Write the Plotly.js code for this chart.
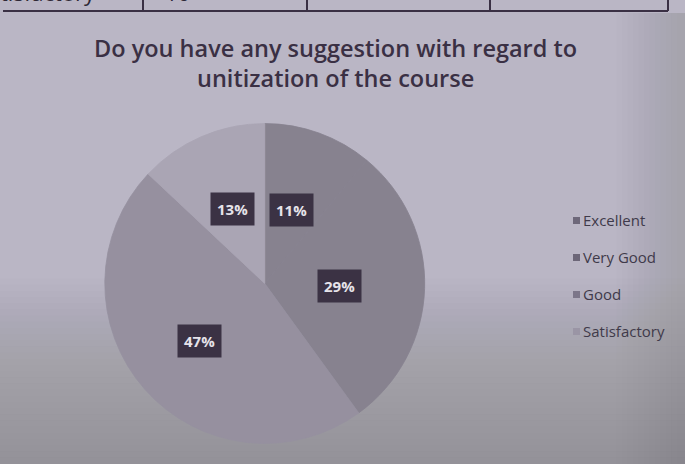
<!DOCTYPE html>
<html>
<head>
<meta charset="utf-8">
<script src="https://cdn.plot.ly/plotly-3.0.1.min.js"></script>
<style>html,body{margin:0;padding:0;background:#b7b3c1;}#chart{width:685px;height:464px;}</style>
</head>
<body>
<div id="chart"></div>
<script>
// ---- data ----
const categories = ["Excellent", "Very Good", "Good", "Satisfactory"];
const values = [11, 29, 47, 13];
const labelsText = ["11%", "29%", "47%", "13%"];
const titleLines = ["Do you have any suggestion with regard to", "unitization of the course"];
const tableText = ["tisfactory", "10"];

// ---- styles ----
const sliceColors = ["#87828f", "#87828f", "#96909f", "#aaa5b4"];
const legendColors = ["#6e687a", "#6c6678", "#7c7689", "#9a95a5"];
const W = 685, H = 464;
const dom = {x: [0.153, 0.620], y: [0.043, 0.735]};

const cx = (dom.x[0] + dom.x[1]) / 2, cy = (dom.y[0] + dom.y[1]) / 2;
const rPx = Math.min((dom.x[1]-dom.x[0])*W, (dom.y[1]-dom.y[0])*H) / 2;

const total = values.reduce((a,b)=>a+b,0);
const annotations = [];
let cum = 0;
const labelRadius = [0.49, 0.47, 0.54, 0.51];
values.forEach((v,i)=>{
  const mid = (cum + v/2) / total * 2 * Math.PI; // clockwise from top
  cum += v;
  const rr = labelRadius[i] * rPx;
  annotations.push({
    xref:'paper', yref:'paper',
    x: cx + rr*Math.sin(mid)/W, y: cy + rr*Math.cos(mid)/H,
    text: '<b>' + labelsText[i] + '</b>', showarrow:false,
    font:{family:'Open Sans, DejaVu Sans', size:15, color:'#e6e3ea'},
    bgcolor:'#3b3244', borderpad:6, xanchor:'center', yanchor:'middle'
  });
});

// legend (manual, to match spacing)
const shapes = [];
const legX = 573/W, legY0 = 1 - 220/H, legStep = 37/H;
categories.forEach((c,i)=>{
  const y = legY0 - i*legStep;
  annotations.push({xref:'paper', yref:'paper', x: legX + 8/W, y: y, text: c, showarrow:false,
    xanchor:'left', yanchor:'middle', font:{family:'Open Sans, Noto Sans', size:15, color:'#3f3a4a'}});
  shapes.push({type:'rect', xref:'paper', yref:'paper', x0: legX, x1: legX + 7/W, y0: y - 4/H, y1: y + 3/H,
    fillcolor: legendColors[i], line:{width:0}});
});

// title (two lines)
titleLines.forEach((t,i)=>{
  annotations.push({xref:'paper', yref:'paper', x: 335/W, y: 1 - (48 + i*30)/H, yanchor:'middle', xanchor:'center',
    text: t, showarrow:false,
    font:{family:'Open Sans, Noto Sans', size:23.5, weight:600, color:'#3a3044'}});
});

// table fragment at top
annotations.push({xref:'paper', yref:'paper', x: -2/W, y: 1 - 9/H, yanchor:'bottom', xanchor:'left',
  text: tableText[0], showarrow:false, font:{family:'Open Sans', size:22, color:'#2e2836'}});
annotations.push({xref:'paper', yref:'paper', x: 163/W, y: 1 - 9/H, yanchor:'bottom', xanchor:'left',
  text: tableText[1], showarrow:false, font:{family:'Open Sans', size:22, color:'#2e2836'}});
shapes.push({type:'line', xref:'paper', yref:'paper', x0: 3/W, x1: 668/W, y0: 1-11/H, y1: 1-11/H, line:{color:'#3a3044', width:2}});
[143, 307, 490, 668].forEach(xp=>{
  shapes.push({type:'line', xref:'paper', yref:'paper', x0: xp/W, x1: xp/W, y0: 1, y1: 1-11/H, line:{color:'#3a3044', width:2}});
});
// photo vignette (smooth darkening toward bottom)
for (let k=0;k<30;k++){
  shapes.push({type:'rect', xref:'paper', yref:'paper', layer:'below', x0:0, x1:1, y0:0, y1: 0.4 - k*0.0133,
    fillcolor:'#5e5472', opacity:0.012, line:{width:0}});
}
for (let k=0;k<12;k++){
  shapes.push({type:'rect', xref:'paper', yref:'paper', layer:'below', x0: 0.9 + k*0.008, x1:1, y0:0, y1: 1-13/H,
    fillcolor:'#5e5472', opacity:0.01, line:{width:0}});
}

const data = [{
  type:'pie', labels: categories, values: values, sort:false, direction:'clockwise', rotation:0,
  marker:{colors: sliceColors, line:{width:0.8, color: sliceColors}}, textinfo:'none', hoverinfo:'label+percent',
  domain: dom, showlegend:false
}];

const layout = {
  width: W, height: H, margin:{l:0,r:0,t:0,b:0},
  paper_bgcolor:'#bab6c5', plot_bgcolor:'#bab6c5',
  showlegend:false, annotations: annotations, shapes: shapes
};
Plotly.newPlot('chart', data, layout, {displayModeBar:false, staticPlot:true});
</script>
</body>
</html>
